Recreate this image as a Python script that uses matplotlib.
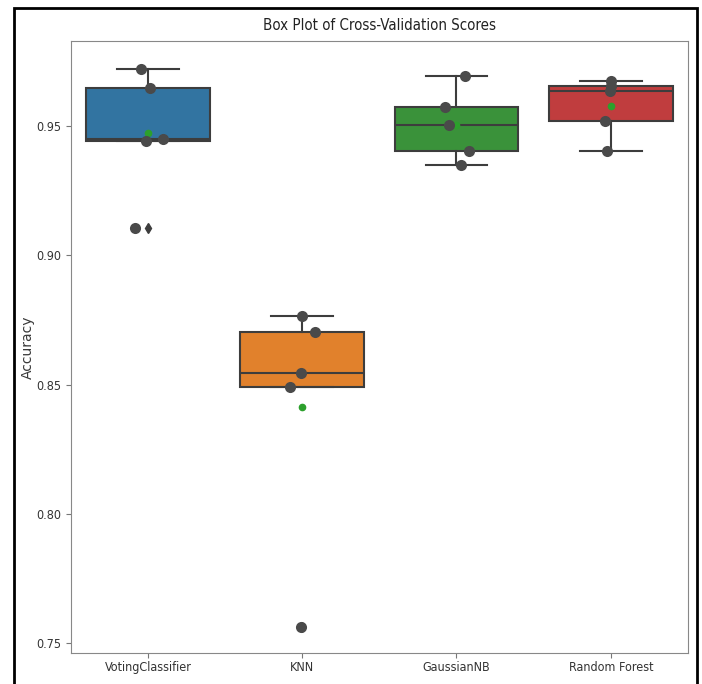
import matplotlib
matplotlib.use("Agg")
import matplotlib.pyplot as plt
from matplotlib.patches import Rectangle
import numpy as np

# cross-validation accuracy per model (5 folds)
models = ["VotingClassifier", "KNN", "GaussianNB", "Random Forest"]
voting_scores = [0.9722, 0.9646, 0.9444, 0.9450, 0.9106]
knn_scores = [0.8765, 0.8705, 0.8544, 0.8492, 0.7562]
gnb_scores = [0.9694, 0.9575, 0.9505, 0.9402, 0.9351]
rf_scores = [0.9673, 0.9655, 0.9636, 0.9518, 0.9402]
scores = [voting_scores, knn_scores, gnb_scores, rf_scores]

# fixed horizontal spread for the strip points
jitter = [
    [-0.045, 0.013, -0.015, 0.095, -0.085],
    [0.0, 0.085, -0.008, -0.08, -0.01],
    [0.056, -0.073, -0.05, 0.08, 0.032],
    [0.002, 0.0, -0.002, -0.04, -0.027],
]

box_colors = ["#3274a1", "#e1812c", "#3a923a", "#c03d3e"]
line_color = "#3d3d3d"

plt.rcParams["font.family"] = ["DejaVu Sans"]
plt.rcParams["font.stretch"] = "condensed"

fig = plt.figure(figsize=(7.02, 6.84), dpi=100)
ax = fig.add_axes([0.1007, 0.0453, 0.8793, 0.8943])

bp = ax.boxplot(scores, positions=range(len(models)), widths=0.8,
                capwidths=0.4, patch_artist=True, showmeans=True,
                boxprops=dict(edgecolor=line_color, linewidth=1.5),
                whiskerprops=dict(color=line_color, linewidth=1.5),
                capprops=dict(color=line_color, linewidth=1.5),
                medianprops=dict(color=line_color, linewidth=1.5),
                meanprops=dict(marker="o", markerfacecolor="#2ca02c",
                               markeredgecolor="#2ca02c", markersize=4.5),
                flierprops=dict(marker="d", markerfacecolor=line_color,
                                markeredgecolor=line_color, markersize=5))
for patch, c in zip(bp["boxes"], box_colors):
    patch.set_facecolor(c)

for i, vals in enumerate(scores):
    xs = i + np.array(jitter[i])
    ax.scatter(xs, vals, s=64, color="#4a4a4a", linewidths=0, zorder=3)

ax.set_xlim(-0.5, 3.5)
ax.set_ylim(0.7461, 0.9828)
ax.set_xticks(range(len(models)))
ax.set_xticklabels(models)
ax.set_yticks([0.75, 0.80, 0.85, 0.90, 0.95])
ax.set_ylabel("Accuracy", fontsize=10, fontstretch="normal", color="#3a3a3a")
ax.yaxis.set_label_coords(-0.058, 0.5)
ax.set_title("Box Plot of Cross-Validation Scores", fontsize=10.8,
             color="#222222", pad=8)
ax.tick_params(labelsize=9, labelcolor="#333333", color="#777777")
ax.tick_params(axis="x", pad=2.5)
for sp in ax.spines.values():
    sp.set_color("#888888")

# black border round the whole figure, open at the bottom edge
fig.add_artist(Rectangle((14 / 702, -0.05), (697 - 14) / 702, 1.0383,
                         transform=fig.transFigure, fill=False,
                         edgecolor="black", linewidth=2))

fig.savefig("out.png", dpi=100, facecolor="white")
